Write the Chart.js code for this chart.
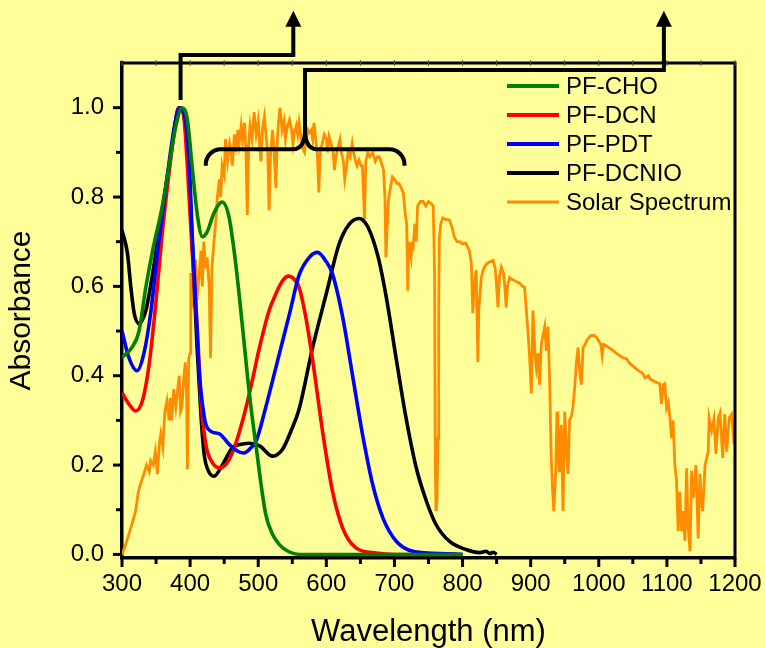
<!DOCTYPE html>
<html><head><meta charset="utf-8">
<script src="https://cdn.jsdelivr.net/npm/chart.js@4.4.0/dist/chart.umd.min.js"></script>
<style>html,body{margin:0;padding:0;background:#FFFF99;}canvas{display:block;}</style>
</head><body>
<canvas id="c" width="765" height="648"></canvas>
<script>
// ---------- DATA ----------
const xTickValues = [300,400,500,600,700,800,900,1000,1100,1200];
const yTickValues = [0,0.2,0.4,0.6,0.8,1.0];
const seriesNames = ['PF-CHO','PF-DCN','PF-PDT','PF-DCNIO','Solar Spectrum'];

const choX = [300,315,325,335,345,359,369,379,388,396,403,411,418,425,435,447,457,467,477,487,497,511,521,531,545,560,600,700,800];
const choY = [0.441,0.464,0.50,0.598,0.68,0.778,0.868,0.958,1.0,0.973,0.868,0.756,0.711,0.722,0.764,0.789,0.756,0.65,0.508,0.36,0.24,0.09,0.045,0.022,0.006,0.0,0.0,0.0,0.0];

const dcnX = [300,310,320,330,340,350,359,369,377,383,390,396,403,411,416,423,433,443,453,465,477,487,502,516,525,531,537,544,550,556,560,570,580,595,609,624,644,673,700,800];
const dcnY = [0.362,0.337,0.321,0.344,0.427,0.568,0.718,0.853,0.95,1.0,0.988,0.868,0.68,0.494,0.344,0.247,0.205,0.194,0.202,0.239,0.299,0.36,0.464,0.546,0.58,0.60,0.615,0.623,0.62,0.61,0.598,0.53,0.434,0.27,0.142,0.059,0.014,0.003,0.0,0.0];

const pdtX = [300,310,322,332,342,354,367,377,384,391,399,403,408,413,421,430,443,457,470,479,490,497,511,531,546,560,575,587,600,609,624,639,653,668,683,703,727,766,800];
const pdtY = [0.50,0.441,0.411,0.449,0.539,0.70,0.853,0.958,1.0,0.988,0.868,0.718,0.568,0.418,0.306,0.276,0.27,0.247,0.231,0.227,0.24,0.254,0.329,0.449,0.539,0.625,0.665,0.676,0.655,0.628,0.531,0.396,0.27,0.157,0.082,0.029,0.007,0.002,0.0];

const dcnioX = [300,308,313,318,325,335,345,359,372,381,386,392,398,404,410,416,421,426,435,448,462,477,487,502,521,536,548,560,580,600,619,634,648,661,676,688,703,717,732,747,761,781,805,825,835,840,845,850];
const dcnioY = [0.726,0.674,0.598,0.539,0.517,0.546,0.629,0.771,0.898,0.988,1.0,0.97,0.86,0.67,0.47,0.31,0.22,0.19,0.175,0.202,0.239,0.247,0.249,0.243,0.22,0.236,0.276,0.325,0.464,0.584,0.696,0.74,0.752,0.733,0.666,0.576,0.434,0.306,0.194,0.119,0.067,0.029,0.011,0.004,0.007,0.002,0.005,0.0];

const solarX = [300,305,310,315,320,324,327,332,336,340,342,346,349,352,355,357,360,363,366,369,371,373,376,379,381,384,386,388,391,393,395,396,398,400,401,403,406,408,410,413,416,418,420,423,425,428,430,432,435,438,440,443,445,447,450,452,455,458,460,462,465,467,470,472,475,477,480,482,484,486,488,491,494,497,500,502,504,506,509,512,514,516,518,521,523,526,528,530,532,535,538,540,543,546,549,551,553,556,558,560,563,565,568,570,573,575,578,580,582,585,587,589,591,594,597,600,602,604,607,610,612,614,617,620,622,625,627,629,632,635,638,640,643,645,648,651,653,656,658,661,664,668,672,675,678,681,684,686,687.5,689,691,694,697,700,704,707,710,713,716,718,719.6,721,723,724.5,726,727,730,732,734,738,742,746,750,754,757,759,760,761,762.5,764,765,766,768,771,775,781,785,788,792,796,800,805,810,813,815,817,820,822.5,824,827.5,831,835,840,845,848,850,852,854,857,860,862,864,866,869,873,876,880,884,888,891,893.7,896,898.5,901,903.4,906,908.4,911,913,915.7,918,920.6,923,925.5,928,930,932,934,936.8,938.7,940,941.6,943,945,947.5,950,952,955,957,960,962,965,967,969.6,972,974.5,977,980,982,986,989,993,996.6,1000,1003,1005,1007,1011,1016,1021,1026,1031,1036,1040.7,1045.6,1050,1055.4,1060,1065,1068,1072.5,1076,1080,1085,1089.7,1092,1095,1097,1099.5,1102,1104,1107,1109,1112,1114,1116.6,1119,1121.6,1124,1126.5,1129,1131,1134,1136.3,1138.7,1142.6,1146,1148.5,1150.5,1152.5,1156,1160.7,1162,1165.7,1169,1172,1175.5,1178,1182,1185,1187.8,1191.6,1195,1198.5,1200];
const solarY = [0.0,0.02,0.045,0.07,0.097,0.14,0.157,0.18,0.2,0.185,0.21,0.2,0.23,0.18,0.25,0.27,0.24,0.32,0.344,0.30,0.35,0.30,0.37,0.33,0.36,0.40,0.32,0.33,0.40,0.43,0.35,0.19,0.44,0.45,0.63,0.56,0.58,0.66,0.57,0.62,0.68,0.60,0.70,0.64,0.665,0.60,0.44,0.64,0.70,0.75,0.80,0.84,0.80,0.87,0.85,0.93,0.88,0.92,0.905,0.87,0.94,0.90,0.95,0.92,0.96,0.93,0.966,0.90,0.76,0.92,0.96,0.93,0.99,0.94,0.97,0.92,0.88,0.95,0.98,0.93,0.90,0.77,0.89,0.95,0.91,0.82,0.93,0.97,1.0,0.95,0.97,0.93,0.96,0.973,0.95,0.92,0.944,0.96,0.94,0.966,0.93,0.91,0.90,0.93,0.95,0.944,0.95,0.93,0.966,0.92,0.89,0.81,0.90,0.92,0.94,0.93,0.90,0.935,0.92,0.90,0.86,0.89,0.91,0.928,0.90,0.88,0.84,0.86,0.90,0.89,0.92,0.90,0.88,0.87,0.883,0.87,0.87,0.75,0.88,0.90,0.89,0.90,0.88,0.89,0.89,0.876,0.86,0.80,0.665,0.72,0.79,0.82,0.845,0.84,0.83,0.83,0.82,0.81,0.76,0.74,0.59,0.70,0.68,0.665,0.70,0.68,0.74,0.70,0.78,0.79,0.79,0.78,0.79,0.785,0.78,0.62,0.20,0.097,0.12,0.26,0.55,0.71,0.74,0.753,0.75,0.748,0.73,0.71,0.70,0.70,0.695,0.697,0.68,0.65,0.54,0.60,0.636,0.43,0.55,0.62,0.64,0.65,0.655,0.658,0.64,0.60,0.553,0.62,0.643,0.63,0.60,0.553,0.60,0.62,0.615,0.613,0.61,0.607,0.60,0.598,0.546,0.50,0.44,0.36,0.546,0.456,0.418,0.45,0.38,0.47,0.49,0.51,0.456,0.51,0.38,0.225,0.15,0.097,0.187,0.32,0.25,0.187,0.26,0.29,0.097,0.32,0.25,0.18,0.30,0.31,0.328,0.38,0.427,0.463,0.41,0.38,0.463,0.47,0.478,0.486,0.49,0.49,0.486,0.478,0.47,0.445,0.47,0.467,0.462,0.456,0.45,0.445,0.44,0.438,0.427,0.422,0.415,0.41,0.404,0.395,0.40,0.392,0.389,0.385,0.382,0.337,0.38,0.382,0.328,0.34,0.314,0.26,0.30,0.193,0.17,0.052,0.14,0.052,0.097,0.03,0.193,0.067,0.007,0.187,0.126,0.2,0.036,0.18,0.12,0.097,0.2,0.23,0.306,0.277,0.303,0.225,0.306,0.317,0.216,0.314,0.23,0.306,0.314,0.247,0.30];

// ---------- CHART ----------
const pts = (xs, ys) => xs.map((x, i) => ({x: x, y: ys[i]}));
const FONT = "'Liberation Sans', Arial, sans-serif";

const bgPlugin = {
  id: 'bg',
  beforeDraw(chart) {
    const c = chart.ctx; c.save(); c.fillStyle = '#FFFF99';
    c.fillRect(0, 0, chart.width, chart.height); c.restore();
  }
};

const framePlugin = {
  id: 'frame',
  afterDraw(chart) {
    const c = chart.ctx, a = chart.chartArea, xs = chart.scales.x, ys = chart.scales.y;
    c.save();
    c.strokeStyle = '#000'; c.lineCap = 'butt';
    c.lineWidth = 3;
    c.beginPath(); c.moveTo(a.left - 1.5, a.top); c.lineTo(a.right, a.top); c.lineTo(a.right, a.bottom + 1.5); c.stroke();
    for (let v = 300; v <= 1200; v += 50) {
      const p = xs.getPixelForValue(v), major = v % 100 === 0;
      c.lineWidth = 3; c.strokeStyle = '#000';
      c.beginPath(); c.moveTo(p, a.bottom); c.lineTo(p, a.bottom + (major ? 9 : 6)); c.stroke();
      c.lineWidth = 1; c.strokeStyle = '#555';
      c.beginPath(); c.moveTo(p, a.top - 3); c.lineTo(p, a.top + 3); c.stroke();
    }
    c.strokeStyle = '#000';
    for (let k = 0; k <= 10; k++) {
      const v = k / 10, p = ys.getPixelForValue(v), major = k % 2 === 0;
      c.lineWidth = 3;
      c.beginPath(); c.moveTo(a.left, p); c.lineTo(a.left - (major ? 9 : 6), p); c.stroke();
    }
    c.restore();
  }
};

const legendPlugin = {
  id: 'insideLegend',
  afterDraw(chart) {
    const c = chart.ctx; c.save();
    c.font = '24px ' + FONT; c.textBaseline = 'middle'; c.textAlign = 'left'; c.fillStyle = '#000';
    chart.data.datasets.forEach((ds, i) => {
      const y = 86 + i * 29;
      c.strokeStyle = ds.borderColor; c.lineWidth = i === 4 ? 3 : 4;
      c.beginPath(); c.moveTo(507, y); c.lineTo(559, y); c.stroke();
      c.fillText(ds.label, 566, y + 1);
    });
    c.restore();
  }
};

const annotationPlugin = {
  id: 'arrows',
  afterDraw(chart) {
    const c = chart.ctx, xs = chart.scales.x, ys = chart.scales.y;
    const X = v => xs.getPixelForValue(v), Y = v => ys.getPixelForValue(v);
    c.save();
    c.strokeStyle = '#000'; c.fillStyle = '#000'; c.lineWidth = 4; c.lineJoin = 'miter'; c.lineCap = 'butt';
    const arrowHead = (x, yTip) => {
      c.beginPath(); c.moveTo(x, yTip); c.lineTo(x - 8, yTip + 16); c.lineTo(x + 8, yTip + 16); c.closePath(); c.fill();
    };
    c.beginPath();
    c.moveTo(X(386), Y(1.017)); c.lineTo(X(386), Y(1.118)); c.lineTo(X(551.5), Y(1.118)); c.lineTo(X(551.5), Y(1.19));
    c.stroke(); arrowHead(X(551.5), Y(1.217));
    c.beginPath();
    c.moveTo(X(568.7), Y(0.952)); c.lineTo(X(568.7), Y(1.0845)); c.lineTo(X(1095.6), Y(1.0845)); c.lineTo(X(1095.6), Y(1.19));
    c.stroke(); arrowHead(X(1095.6), Y(1.217));
    const xL = X(423), xR = X(714.7), xM = X(568.7), yE = Y(0.87), yB = Y(0.9067), yC = Y(0.952);
    c.beginPath();
    c.moveTo(xL, yE);
    c.arcTo(xL, yB, xL + 20, yB, 15);
    c.lineTo(xM - 12, yB);
    c.quadraticCurveTo(xM, yB, xM, yC);
    c.quadraticCurveTo(xM, yB, xM + 12, yB);
    c.lineTo(xR - 20, yB);
    c.arcTo(xR, yB, xR, yE, 15);
    c.lineTo(xR, yE);
    c.stroke();
    c.restore();
  }
};

const colors = ['#008000', '#FF0000', '#0000FF', '#000000', '#FF8C00'];
const series = [pts(choX, choY), pts(dcnX, dcnY), pts(pdtX, pdtY), pts(dcnioX, dcnioY), pts(solarX, solarY)];
const orders = [0, 2, 1, 3, 4];

new Chart(document.getElementById('c'), {
  type: 'line',
  data: {
    datasets: seriesNames.map((name, i) => ({
      label: name,
      data: series[i],
      borderColor: colors[i],
      backgroundColor: colors[i],
      borderWidth: i === 4 ? 2.8 : 3.6,
      pointRadius: 0,
      fill: false,
      order: orders[i],
      cubicInterpolationMode: i === 4 ? 'default' : 'monotone',
      tension: 0
    }))
  },
  options: {
    responsive: false,
    animation: false,
    events: [],
    layout: { padding: { top: 63, right: 30, left: 0, bottom: 0 } },
    plugins: { legend: { display: false }, tooltip: { enabled: false } },
    scales: {
      x: {
        type: 'linear', min: 300, max: 1200,
        afterBuildTicks: s => { s.ticks = xTickValues.map(v => ({ value: v })); },
        afterFit: s => { s.height = 90; s.paddingLeft = 0; s.paddingRight = 0; },
        grid: { display: false, drawTicks: false },
        border: { display: true, color: '#000', width: 3.5 },
        ticks: { color: '#000', font: { family: FONT, size: 24 }, padding: 12, maxRotation: 0, autoSkip: false, callback: v => String(v) },
        title: { display: true, text: 'Wavelength (nm)', color: '#000', font: { family: FONT, size: 31, lineHeight: 1.0 }, padding: 0 }
      },
      y: {
        type: 'linear', min: -0.008, max: 1.1,
        afterBuildTicks: s => { s.ticks = yTickValues.map(v => ({ value: v })); },
        afterFit: s => { s.width = 122; s.paddingTop = 0; s.paddingBottom = 0; },
        grid: { display: false, drawTicks: false },
        border: { display: true, color: '#000', width: 3.5 },
        ticks: { color: '#000', font: { family: FONT, size: 24 }, padding: 18, callback: v => Number(v).toFixed(1) },
        title: { display: true, text: 'Absorbance', color: '#000', font: { family: FONT, size: 30, lineHeight: 1.0 }, padding: 7 }
      }
    }
  },
  plugins: [bgPlugin, framePlugin, legendPlugin, annotationPlugin]
});
</script>
</body></html>
